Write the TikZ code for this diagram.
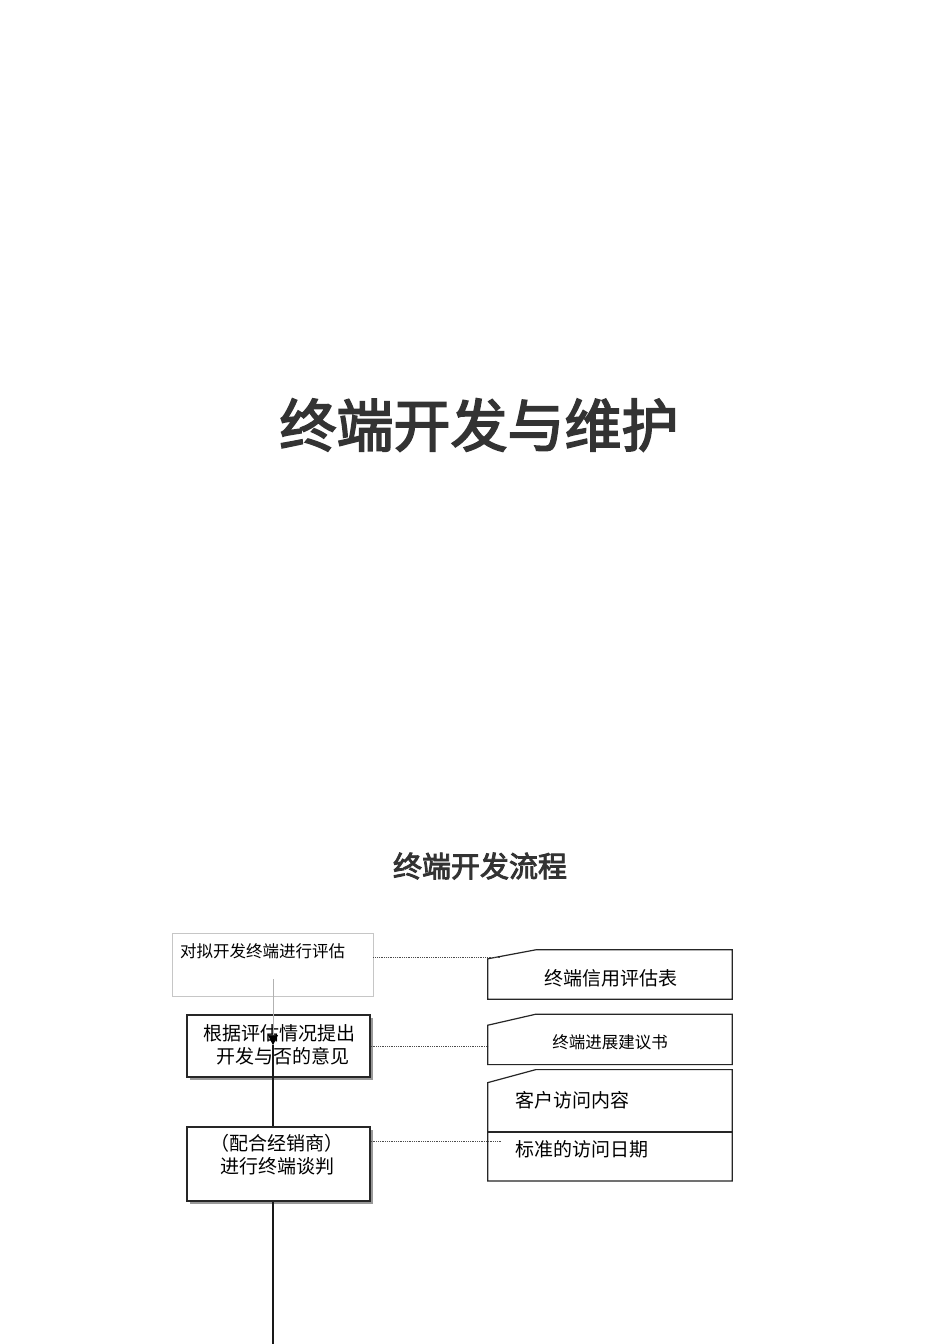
\documentclass[tikz,border=0pt]{standalone}
\usepackage{fontspec}
\newfontfamily\cjk{Noto Sans CJK SC}
\newfontfamily\cjkheavy{Noto Sans CJK SC}[FakeBold=3]
\usetikzlibrary{positioning,arrows.meta,calc,shadows}
\definecolor{ink}{RGB}{51,51,51}
\tikzset{
title/.style={font=\cjkheavy\fontsize{57}{62}\selectfont,text=ink},
subtitle/.style={font=\cjkheavy\fontsize{29}{32}\selectfont,text=ink},
step box/.style={rectangle,draw=black!85,line width=1.6pt,minimum width=183pt,
fill=white,drop shadow={shadow xshift=3pt,shadow yshift=-3pt,fill=gray!80,opacity=1}},
step text/.style={align=center,inner sep=0pt,font=\cjk\fontsize{19}{23}\selectfont},
card/.style={rectangle,minimum width=244pt},
card text/.style={inner sep=0pt,font=\cjk\fontsize{19}{22}\selectfont},
cardline/.style={draw=black!85,line width=1.2pt},
link/.style={densely dotted,draw=black!70,line width=0.8pt},
flow/.style={draw=black!90,line width=1.6pt}
}
\begin{document}
\begin{tikzpicture}[x=1pt, y=-1pt]
\useasboundingbox[fill=white] (0,0) rectangle (950,1344);

\node[title] (head) at (479,425) {终端开发与维护};
\node[subtitle] (sub) at (480,866) {终端开发流程};

% left column
\node[rectangle,draw=gray!45,line width=0.6pt,minimum width=201pt,minimum height=63pt] (eval) at (272.5,964.5) {};
\node[anchor=west,font=\cjk\fontsize{16.5}{19}\selectfont,inner sep=0pt] (evaltext) at (180,951) {对拟开发终端进行评估};
\node[step box,minimum height=62pt] (propose) at (278.5,1046) {};
\node[step box,minimum height=74pt] (negotiate) at (278.5,1164) {};
\node[step text] (proposetext) at (279,1045) {根据评估情况提出\\\ \ 开发与否的意见};
\node[step text] (negotiatetext) at (277,1155) {（配合经销商）\\进行终端谈判};

% right column
\node[card,minimum height=49pt] (credit) at (610,974.5) {};
\node[card,minimum height=50pt,below=15pt of credit] (plan) {};
\node[card,minimum height=111pt,below=5pt of plan] (visit) {};
\node[card text] (credittext) at (611,978) {终端信用评估表};
\node[card text,font=\cjk\fontsize{16.5}{20}\selectfont] (plantext) at (610,1042) {终端进展建议书};
\node[card text,anchor=west] (visitwhat) at (515,1100) {客户访问内容};
\node[card text,anchor=west] (visitwhen) at (515,1149) {标准的访问日期};

\foreach \c/\cut in {credit/9,plan/11,visit/13}
  \draw[cardline] (\c.south west) -- ($(\c.north west)+(0,\cut)$) -- ($(\c.north west)+(48,0)$) -- (\c.north east) -- (\c.south east) -- cycle;
\draw[cardline] (visit.west |- 0,1132) -- (visit.east |- 0,1132);

% flow
\coordinate (start) at (273,979);
\coordinate (tip) at (273,1045);
\coordinate (end) at (273,1344);
\draw[gray!60,line width=0.6pt,-{Triangle[black,width=10pt,length=10pt]}] (start) -- (tip);
\draw[flow] (tip) -- (tip |- negotiate.north);
\draw[flow] (negotiate.south -| tip) -- (end);

% links
\draw[link] (eval.east |- 0,957) -- (500,957);
\draw[link] (propose.east) -- (propose.east -| plan.west);
\draw[link] (negotiate.east |- 0,1141) -- (502,1141);

\end{tikzpicture}
\end{document}
